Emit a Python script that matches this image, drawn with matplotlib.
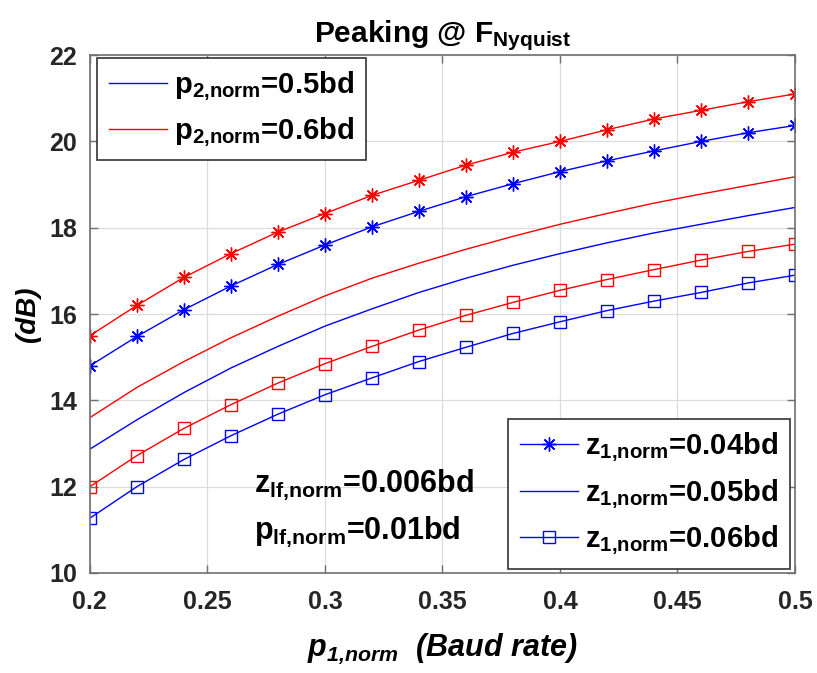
import matplotlib
matplotlib.use("Agg")
import matplotlib.pyplot as plt
from matplotlib.lines import Line2D

plt.rcParams['font.family'] = ['Liberation Sans', 'DejaVu Sans']
plt.rcParams['mathtext.fontset'] = 'custom'
plt.rcParams['mathtext.rm'] = 'Liberation Sans'
plt.rcParams['mathtext.bf'] = 'Liberation Sans:bold'
plt.rcParams['mathtext.it'] = 'Liberation Sans:italic'
plt.rcParams['mathtext.bfit'] = 'Liberation Sans:bold:italic'

p1 = [0.20, 0.22, 0.24, 0.26, 0.28, 0.30, 0.32, 0.34, 0.36, 0.38, 0.40, 0.42, 0.44, 0.46, 0.48, 0.50]

# p2 = 0.6bd (red)
red_z004 = [15.5, 16.2, 16.85, 17.4, 17.9, 18.33, 18.75, 19.1, 19.45, 19.75, 20.0, 20.27, 20.52, 20.72, 20.92, 21.1]
red_z005 = [13.6, 14.3, 14.9, 15.45, 15.95, 16.42, 16.83, 17.18, 17.5, 17.8, 18.08, 18.33, 18.57, 18.78, 18.98, 19.18]
red_z006 = [12.0, 12.72, 13.35, 13.9, 14.4, 14.85, 15.25, 15.63, 15.97, 16.27, 16.55, 16.8, 17.03, 17.25, 17.45, 17.62]
# p2 = 0.5bd (blue)
blue_z004 = [14.8, 15.48, 16.1, 16.65, 17.15, 17.6, 18.02, 18.38, 18.72, 19.02, 19.3, 19.55, 19.78, 20.0, 20.2, 20.37]
blue_z005 = [12.87, 13.55, 14.18, 14.75, 15.25, 15.72, 16.12, 16.5, 16.83, 17.13, 17.4, 17.65, 17.88, 18.08, 18.28, 18.47]
blue_z006 = [11.27, 12.0, 12.63, 13.18, 13.68, 14.13, 14.52, 14.9, 15.23, 15.55, 15.82, 16.08, 16.3, 16.5, 16.72, 16.9]

xticks = [0.2, 0.25, 0.3, 0.35, 0.4, 0.45, 0.5]
xticklabels = ['0.2', '0.25', '0.3', '0.35', '0.4', '0.45', '0.5']
yticks = [10, 12, 14, 16, 18, 20, 22]

fig = plt.figure(figsize=(8.17, 6.73), dpi=100)
ax = fig.add_axes([0.110, 0.1486, 0.863, 0.7695])

lw = 1.0
STAR = (8, 2, 0)
ms_star = 10
ms_sq = 8.5
mk = dict(markerfacecolor='none', markeredgewidth=1.0)
ax.plot(p1, blue_z004, color='blue', lw=lw, marker=STAR, ms=ms_star, **mk)
ax.plot(p1, blue_z005, color='blue', lw=lw)
ax.plot(p1, blue_z006, color='blue', lw=lw, marker='s', ms=ms_sq, **mk)
ax.plot(p1, red_z004, color='red', lw=lw, marker=STAR, ms=ms_star, **mk)
ax.plot(p1, red_z005, color='red', lw=lw)
ax.plot(p1, red_z006, color='red', lw=lw, marker='s', ms=ms_sq, **mk)

ax.set_xlim(0.2, 0.5)
ax.set_ylim(10, 22)
ax.set_xticks(xticks)
ax.set_xticklabels(xticklabels)
ax.set_yticks(yticks)
ax.grid(True, color='#dcdcdc', lw=0.9)
ax.set_axisbelow(True)
for s in ax.spines.values():
    s.set_color('#707070')
    s.set_linewidth(1.2)
ax.tick_params(direction='in', length=6, width=1, color='#707070', top=True, right=True,
               labelsize=18, pad=9)
ax.tick_params(axis='x', pad=12)
for lab in ax.get_xticklabels() + ax.get_yticklabels():
    lab.set_fontweight('bold')
    lab.set_color('#262626')

ax.set_title(r'Peaking @ $\mathbf{F_{Nyquist}}$', fontsize=21.5, fontweight='bold', pad=9)
ax.set_ylabel('(dB)', fontsize=20, fontweight='bold', fontstyle='italic', labelpad=6)
ax.set_xlabel(r'$\mathbfit{p}_{\mathbfit{1{,}norm}}$  (Baud rate)', fontsize=22, fontweight='bold',
              fontstyle='italic', labelpad=13)

# legend for p2
h1 = [Line2D([], [], color='blue', lw=lw), Line2D([], [], color='red', lw=lw)]
leg1 = ax.legend(h1, [r'$\mathbf{p}_{\mathbf{2{,}norm}}$=0.5bd', r'$\mathbf{p}_{\mathbf{2{,}norm}}$=0.6bd'],
                 loc='upper left', bbox_to_anchor=(0.0099, 0.994), fancybox=False,
                 edgecolor='#333333', framealpha=1, handlelength=2.0,
                 prop={'weight': 'bold', 'size': 21}, borderpad=0.4, labelspacing=0.42,
                 handletextpad=0.25, borderaxespad=0.0)
leg1.get_frame().set_linewidth(1.2)
ax.add_artist(leg1)

h2 = [Line2D([], [], color='blue', lw=lw, marker=STAR, ms=ms_star, **mk),
      Line2D([], [], color='blue', lw=lw),
      Line2D([], [], color='blue', lw=lw, marker='s', ms=ms_sq, **mk)]
leg2 = ax.legend(h2, [r'$\mathbf{z}_{\mathbf{1{,}norm}}$=0.04bd', r'$\mathbf{z}_{\mathbf{1{,}norm}}$=0.05bd',
                      r'$\mathbf{z}_{\mathbf{1{,}norm}}$=0.06bd'],
                 loc='lower right', bbox_to_anchor=(0.993, 0.008), fancybox=False,
                 edgecolor='#333333', framealpha=1, handlelength=2.0,
                 prop={'weight': 'bold', 'size': 21}, borderpad=0.4, labelspacing=0.45,
                 handletextpad=0.25, borderaxespad=0.0)
leg2.get_frame().set_linewidth(1.2)

ax.text(0.270, 11.88, r'$\mathbf{z}_{\mathbf{lf{,}norm}}$=0.006bd', fontsize=22, fontweight='bold', va='baseline')
ax.text(0.270, 10.8, r'$\mathbf{p}_{\mathbf{lf{,}norm}}$=0.01bd', fontsize=22, fontweight='bold', va='baseline')

fig.savefig('out.png', dpi=100)
